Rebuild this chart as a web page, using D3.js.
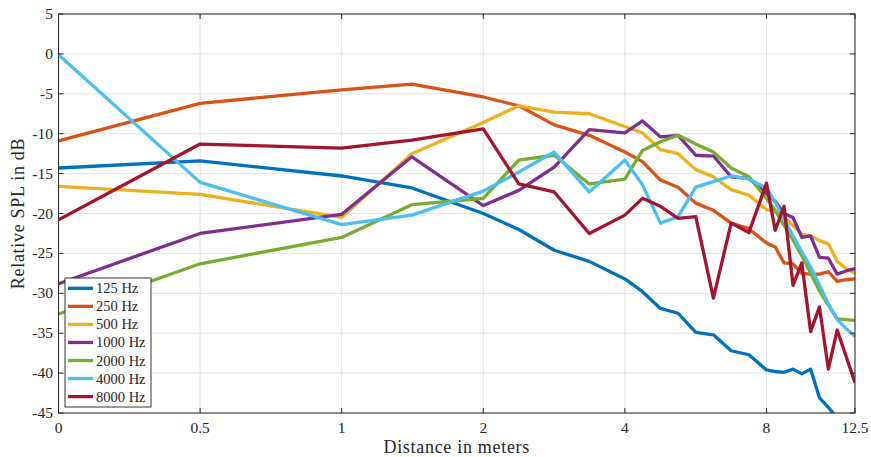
<!DOCTYPE html>
<html>
<head>
<meta charset="utf-8">
<script src="https://cdn.jsdelivr.net/npm/d3@7"></script>
<style>
  html, body { margin: 0; padding: 0; background: #fff; }
  svg { display: block; }
  text { font-family: "Liberation Serif", "DejaVu Serif", serif; fill: #262626; }
</style>
</head>
<body>
<svg id="chart" width="871" height="457"></svg>
<script>
// ---- data ----
const distances = [0, 0.5, 1, 1.41, 2, 2.38, 2.83, 3.36, 4, 4.36, 4.76, 5.19, 5.66, 6.17, 6.73, 7.34,
                   8, 8.35, 8.72, 9.11, 9.51, 9.93, 10.37, 10.83, 11.31, 11.81, 12.34];
const seriesNames = ["125 Hz", "250 Hz", "500 Hz", "1000 Hz", "2000 Hz", "4000 Hz", "8000 Hz"];
const spl125  = [-14.3, -13.4, -15.3, -16.8, -20.0, -22.0, -24.6, -26.0, -28.2, -29.8, -31.9, -32.5, -34.9, -35.2, -37.2, -37.7, -39.6, -39.8, -39.9, -39.5, -40.1, -39.5, -43.1, -44.3, -45.6, -46.8, -47.8];
const spl250  = [-10.9, -6.2, -4.5, -3.8, -5.4, -6.5, -8.9, -10.2, -12.3, -13.5, -15.8, -16.7, -18.7, -19.6, -21.2, -21.9, -23.7, -24.2, -26.2, -26.3, -27.5, -27.6, -27.6, -27.3, -28.5, -28.3, -28.2];
const spl500  = [-16.6, -17.6, -20.5, -12.5, -8.6, -6.5, -7.3, -7.5, -9.1, -9.9, -12.0, -12.5, -14.5, -15.4, -17.0, -17.7, -19.5, -19.8, -20.5, -21.5, -22.6, -22.8, -23.4, -23.8, -26.0, -26.9, -27.5];
const spl1000 = [-28.8, -22.5, -20.1, -12.9, -19.0, -17.1, -14.2, -9.5, -9.9, -8.4, -10.4, -10.2, -12.7, -12.8, -15.4, -15.6, -17.5, -18.5, -20.0, -20.5, -23.0, -22.8, -25.5, -25.6, -27.6, -27.2, -26.9];
const spl2000 = [-32.6, -26.3, -23.0, -18.9, -18.1, -13.3, -12.7, -16.3, -15.7, -12.1, -11.0, -10.2, -11.3, -12.3, -14.3, -15.4, -18.1, -19.6, -21.5, -23.3, -25.3, -27.5, -29.7, -31.5, -33.2, -33.3, -33.4];
const spl4000 = [-0.1, -16.1, -21.4, -20.2, -17.2, -14.8, -12.3, -17.3, -13.3, -16.4, -21.2, -20.4, -16.7, -16.0, -15.3, -15.7, -16.8, -18.6, -20.7, -22.8, -24.8, -26.7, -29.0, -31.3, -33.3, -34.4, -35.4];
const spl8000 = [-20.8, -11.3, -11.8, -10.8, -9.4, -16.3, -17.3, -22.5, -20.2, -18.1, -19.1, -20.6, -20.4, -30.6, -21.2, -22.4, -16.2, -22.1, -19.1, -29.0, -26.2, -34.8, -31.7, -39.5, -34.6, -37.9, -41.2];
const xTickValues = [0, 0.5, 1, 2, 4, 8, 12.34];
const xTickLabels = ["0", "0.5", "1", "2", "4", "8", "12.5"];
const yTickValues = [5, 0, -5, -10, -15, -20, -25, -30, -35, -40, -45];
const colors = ["#0072BD", "#D95319", "#EDB120", "#7E2F8E", "#77AC30", "#4DBEEE", "#A2142F"];

const allSeries = [spl125, spl250, spl500, spl1000, spl2000, spl4000, spl8000];

// ---- layout ----
const svg = d3.select("#chart");
const L = 58.5, R = 855, T = 14, B = 413;
const zeroPos = 0.25; // the "0" distance is drawn one octave left of 0.5
const xs = d3.scaleLog().base(2).domain([zeroPos, 12.34]).range([L, R]);
const x = d => xs(d === 0 ? zeroPos : d);
const y = d3.scaleLinear().domain([-45, 5]).range([B, T]);

// grid
const grid = svg.append("g");
grid.selectAll("line.gx").data(xTickValues).join("line")
  .attr("x1", d => x(d)).attr("x2", d => x(d)).attr("y1", T).attr("y2", B)
  .attr("stroke", "#e3e3e3").attr("stroke-width", 1);
grid.selectAll("line.gy").data(yTickValues).join("line")
  .attr("x1", L).attr("x2", R).attr("y1", d => y(d)).attr("y2", d => y(d))
  .attr("stroke", "#e3e3e3").attr("stroke-width", 1);

// clip
svg.append("clipPath").attr("id", "clip").append("rect")
  .attr("x", L).attr("y", T).attr("width", R - L).attr("height", B - T);

const line = d3.line().x((d, i) => x(distances[i])).y(d => y(d));
const lines = svg.append("g").attr("clip-path", "url(#clip)");
allSeries.forEach((s, k) => {
  lines.append("path").datum(s)
    .attr("d", line)
    .attr("fill", "none")
    .attr("stroke", colors[k])
    .attr("stroke-width", 3.3)
    .attr("stroke-linejoin", "round")
    .attr("stroke-linecap", "butt");
});

// axes box
const axc = "#262626";
svg.append("rect").attr("x", L).attr("y", T).attr("width", R - L).attr("height", B - T)
  .attr("fill", "none").attr("stroke", axc).attr("stroke-width", 1);

// ticks (inside)
const tk = 5;
const ticks = svg.append("g").attr("stroke", axc).attr("stroke-width", 1);
xTickValues.forEach(v => {
  ticks.append("line").attr("x1", x(v)).attr("x2", x(v)).attr("y1", B).attr("y2", B - tk);
  ticks.append("line").attr("x1", x(v)).attr("x2", x(v)).attr("y1", T).attr("y2", T + tk);
});
yTickValues.forEach(v => {
  ticks.append("line").attr("x1", L).attr("x2", L + tk).attr("y1", y(v)).attr("y2", y(v));
  ticks.append("line").attr("x1", R).attr("x2", R - tk).attr("y1", y(v)).attr("y2", y(v));
});

// tick labels
svg.append("g").selectAll("text").data(xTickValues).join("text")
  .attr("x", d => x(d)).attr("y", 433)
  .attr("text-anchor", "middle").attr("font-size", 15.5)
  .text((d, i) => xTickLabels[i]);
svg.append("g").selectAll("text").data(yTickValues).join("text")
  .attr("x", 53).attr("y", d => y(d) + 5)
  .attr("text-anchor", "end").attr("font-size", 15.5)
  .text(d => String(d));

// axis labels
svg.append("text").attr("x", (L + R) / 2).attr("y", 453)
  .attr("text-anchor", "middle").attr("font-size", 18).attr("letter-spacing", 0.7)
  .text("Distance in meters");
svg.append("text").attr("transform", `translate(24,${(T + B) / 2}) rotate(-90)`)
  .attr("text-anchor", "middle").attr("font-size", 18).attr("letter-spacing", 0.7)
  .text("Relative SPL in dB");

// legend
const lg = svg.append("g");
lg.append("rect").attr("x", 65).attr("y", 278).attr("width", 86).attr("height", 129)
  .attr("fill", "#fff").attr("stroke", "#333").attr("stroke-width", 1);
seriesNames.forEach((n, k) => {
  const cy = 288.3 + k * 18.05;
  lg.append("line").attr("x1", 68).attr("x2", 93).attr("y1", cy).attr("y2", cy)
    .attr("stroke", colors[k]).attr("stroke-width", 3.3);
  lg.append("text").attr("x", 96).attr("y", cy + 5).attr("font-size", 14.5).text(n);
});
</script>
</body>
</html>
